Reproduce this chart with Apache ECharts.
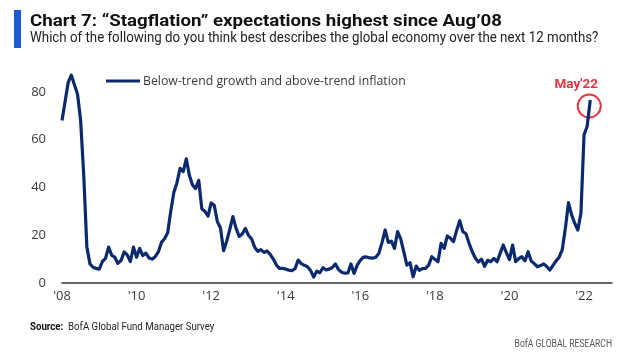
<!DOCTYPE html>
<html>
<head>
<meta charset="utf-8">
<script src="https://cdn.jsdelivr.net/npm/echarts@6/dist/echarts.min.js"></script>
<style>
html,body{margin:0;padding:0;background:#fff;}
#chart{width:630px;height:363px;}
</style>
</head>
<body>
<div id="chart"></div>
<script>
// Monthly observations, Mar 2008 .. May 2022 (% of FMS respondents)
const startYear = 2008, startMonth = 3;
const axisEndYear = 2022, axisEndMonth = 12;
const stagflation = [
  68, 76, 84, 87, 83, 79, 68, 45, 15, 8,
  6.6, 6.1, 5.8, 9, 10.3, 15, 11.6, 10.8, 8.2, 9.4,
  13, 11.8, 9, 15, 10.8, 14.5, 11.5, 12.5, 10.5, 10,
  11, 13, 17, 18.5, 21, 30, 38, 42, 48, 46.6,
  52, 45, 41, 39.5, 43, 31, 30, 28, 33.5, 32.5,
  25.7, 23, 13.5, 17.5, 22.5, 27.8, 23, 19.5, 20.5, 22.8,
  20, 18.5, 15, 13.3, 14, 12.8, 13.4, 12, 10, 7.5,
  6.1, 6.1, 5.8, 5.4, 5.2, 6, 9.6, 8.1, 7.4, 6.8,
  5.2, 2.5, 5, 4.3, 6.4, 5.5, 5.8, 6.5, 8, 5.6,
  4.5, 4.1, 4.2, 8, 4, 7.5, 9.5, 10.8, 10.9, 10.5,
  10.4, 10.8, 12.5, 17, 22.2, 17, 17.5, 14.5, 21.5, 18.5,
  13, 7.5, 8.5, 2.6, 7.1, 5.3, 6, 6.1, 7.5, 11,
  9.9, 8.9, 16.6, 14.5, 19.7, 18.7, 17.3, 22, 26.1, 21.5,
  20.6, 16.6, 13.2, 10.5, 8.8, 10, 7, 9.5, 8.9, 10.3,
  8.9, 12.4, 15.9, 12.7, 9.8, 15.9, 8.9, 10.2, 11, 9.3,
  13.1, 9.2, 8.1, 6.8, 7.3, 8, 6.9, 5.4, 7.4, 9.2,
  10.8, 14, 23, 33.6, 28.5, 25, 22.2, 29.2, 62, 65.5,
  76.6
];
const tickYears = ["'08", "'10", "'12", "'14", "'16", "'18", "'20", "'22"];
const yTicks = [0, 20, 40, 60, 80];
const seriesName = 'Below-trend growth and above-trend inflation';
const annotationText = "May'22";

const categories = [];
{
  let y = startYear, m = startMonth;
  while (y < axisEndYear || (y === axisEndYear && m <= axisEndMonth)) {
    categories.push(y + '-' + String(m).padStart(2, '0'));
    m++; if (m > 12) { m = 1; y++; }
  }
}
const lastIdx = stagflation.length - 1;

const chart = echarts.init(document.getElementById('chart'), null, {renderer: 'canvas'});
const txt = '#3a3a3a';
const cond = "Roboto, sans-serif";

chart.setOption({
  animation: false,
  backgroundColor: '#fff',
  grid: {left: 62, right: 18, top: 68, bottom: 80},
  legend: {
    left: 106, top: 75, padding: 0,
    itemWidth: 34, itemHeight: 3, icon: 'rect',
    data: [seriesName],
    textStyle: {color: txt, fontSize: 12.3, fontFamily: "'Open Sans', sans-serif", padding: [0,0,0,-2]}
  },
  xAxis: {
    type: 'category', data: categories, boundaryGap: false,
    axisLine: {lineStyle: {color: '#333', width: 1.5}},
    axisTick: {show: false},
    axisLabel: {
      color: txt, fontSize: 13, fontFamily: "'Open Sans', sans-serif", margin: 7,
      interval: (i) => i % 24 === 0,
      formatter: (v, i) => tickYears[Math.round(i / 24)] || ''
    },
    splitLine: {show: false}
  },
  yAxis: {
    type: 'value', min: 0, max: 90, interval: 20,
    axisLine: {show: false}, axisTick: {show: false}, splitLine: {show: false},
    axisLabel: {
      color: txt, fontSize: 13, fontFamily: "'Open Sans', sans-serif", margin: 16,
      formatter: (v) => yTicks.indexOf(v) >= 0 ? String(v) : ''
    }
  },
  series: [
    {
      name: seriesName, type: 'line', data: stagflation,
      symbol: 'none', smooth: false,
      lineStyle: {color: '#0b2a6e', width: 3.2, join: 'round'},
      itemStyle: {color: '#0b2a6e'}
    },
    {
      name: 'annotation', type: 'scatter',
      data: [[categories[lastIdx], stagflation[lastIdx]]],
      symbol: 'circle', symbolSize: 23, symbolOffset: [-1, 6],
      itemStyle: {color: 'rgba(0,0,0,0)', borderColor: '#e0000f', borderWidth: 2},
      label: {
        show: true, position: 'top', distance: 2, offset: [-13, 0],
        formatter: annotationText,
        color: '#e0000f', fontWeight: 'bold', fontSize: 13.5,
        fontFamily: cond
      },
      silent: true
    }
  ],
  graphic: [
    {type: 'rect', left: 14, top: 10, shape: {width: 7, height: 38}, style: {fill: '#1c5ad2'}},
    {type: 'text', left: 30, top: 13, scaleX: 1.1, style: {
      text: 'Chart 7: \u201cStagflation\u201d expectations highest since Aug\u201908',
      fill: '#111', font: "bold 17px " + cond}},
    {type: 'text', left: 30, top: 31, scaleX: 0.95, style: {
      text: 'Which of the following do you think best describes the global economy over the next 12 months?',
      fill: '#222', font: "14px " + cond}},
    {type: 'text', left: 30, top: 321, scaleX: 0.84, style: {
      rich: {
        b: {font: "bold 11.5px " + cond, fill: '#111'},
        n: {font: "11.5px " + cond, fill: '#222'}
      },
      text: '{b|Source:}{n|  BofA Global Fund Manager Survey}'}},
    {type: 'text', right: 18, top: 339, scaleX: 0.78, style: {
      text: 'BofA GLOBAL RESEARCH', fill: '#555', font: "11px " + cond}}
  ]
});
</script>
</body>
</html>
